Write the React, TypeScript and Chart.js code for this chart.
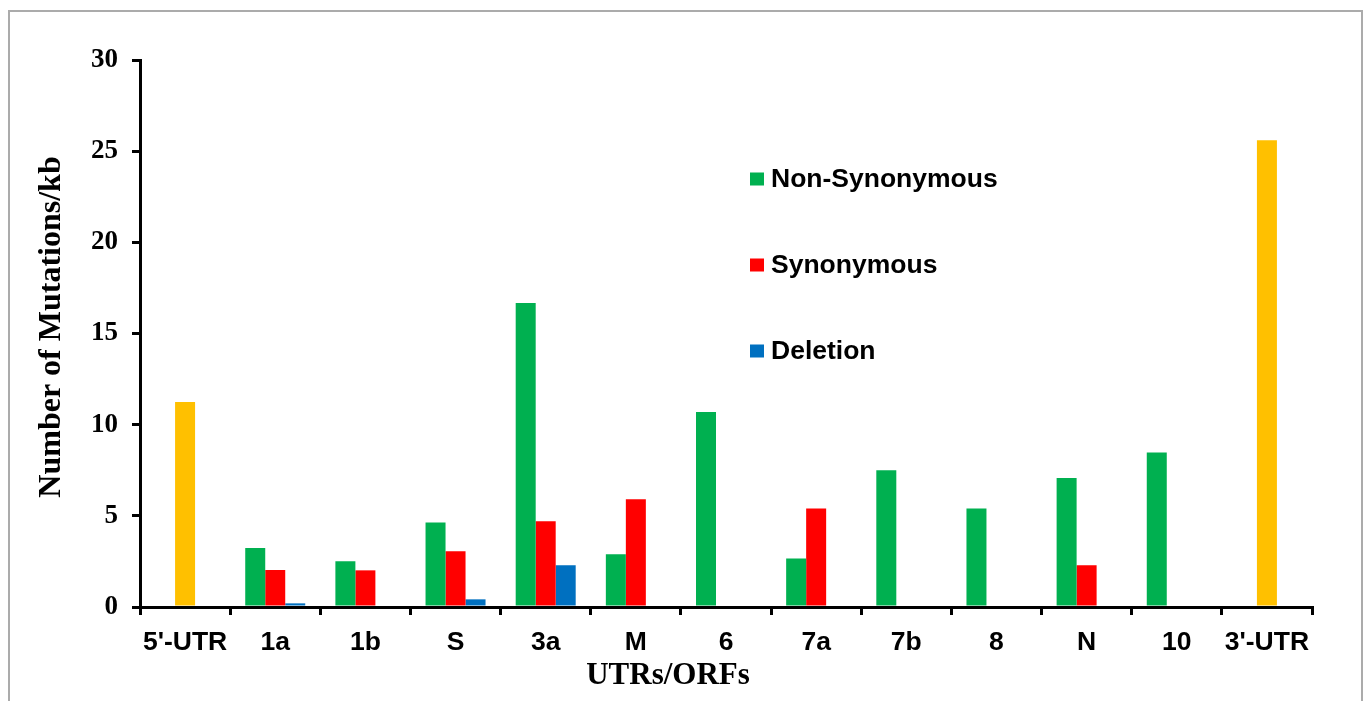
import React, { useEffect, useRef } from "react";
import { Chart, registerables } from "chart.js";

Chart.register(...registerables);

const categories = ["5'-UTR", "1a", "1b", "S", "3a", "M", "6", "7a", "7b", "8", "N", "10", "3'-UTR"];
const nonSynonymous = [null, 3.24, 2.51, 4.63, 16.67, 2.89, 10.69, 2.66, 7.5, 5.4, 7.08, 8.47, null];
const synonymous = [null, 2.03, 2.01, 3.06, 4.7, 5.91, 0, 5.4, 0, 0, 2.29, 0, null];
const deletion = [null, 0.2, 0, 0.42, 2.29, 0, 0, 0, 0, 0, 0, 0, null];
const utr = [11.24, null, null, null, null, null, null, null, null, null, null, null, 25.6];
const seriesLabels = ["Non-Synonymous", "Synonymous", "Deletion", "UTR"];
const seriesColors = ["#00B050", "#FF0000", "#0070C0", "#FFC000"];
const yMin = 0;
const yMax = 30;
const yStep = 5;
const xTitle = "UTRs/ORFs";
const yTitle = "Number of Mutations/kb";

const SERIF = "'Liberation Serif', 'Times New Roman', serif";
const SANS = "'Liberation Sans', Arial, sans-serif";

const overlayPlugin = {
  id: "overlay",
  afterDraw(chart: any) {
    const ctx = chart.ctx;
    ctx.save();
    ctx.fillStyle = "#000";
    // axis titles
    ctx.font = `bold 31px ${SERIF}`;
    ctx.textAlign = "center";
    ctx.textBaseline = "alphabetic";
    ctx.fillText(xTitle, 668, 684);
    ctx.font = `bold 32px ${SERIF}`;
    ctx.save();
    ctx.translate(60, 327);
    ctx.rotate(-Math.PI / 2);
    ctx.fillText(yTitle, 0, 0);
    ctx.restore();
    // legend (first three series)
    ctx.font = `bold 26.5px ${SANS}`;
    ctx.textAlign = "left";
    ctx.textBaseline = "middle";
    for (let i = 0; i < 3; i++) {
      const cy = 179 + i * 86;
      ctx.fillStyle = seriesColors[i];
      ctx.fillRect(750, cy - 6.5, 14, 13);
      ctx.fillStyle = "#000";
      ctx.fillText(seriesLabels[i], 771, cy + 1);
    }
    ctx.restore();
  },
};

export default function App() {
  const canvasRef = useRef<HTMLCanvasElement | null>(null);

  useEffect(() => {
    if (!canvasRef.current) return;
    const seriesData = [nonSynonymous, synonymous, deletion, utr];
    const chart = new Chart(canvasRef.current, {
      type: "bar",
      data: {
        labels: categories,
        datasets: seriesData.map((d, i) => ({
          label: seriesLabels[i],
          data: d as any,
          backgroundColor: seriesColors[i],
          borderWidth: 0,
          inflateAmount: 0,
          barThickness: 20,
          skipNull: true,
        })),
      },
      options: {
        responsive: false,
        animation: false,
        devicePixelRatio: 1,
        layout: { padding: { left: 0, right: 51, top: 60, bottom: 0 } },
        plugins: {
          legend: { display: false },
          tooltip: { enabled: false },
          title: { display: false },
        },
        scales: {
          x: {
            offset: true,
            z: 1,
            grid: {
              display: true,
              offset: true,
              drawOnChartArea: false,
              drawTicks: true,
              tickLength: 8,
              color: "#000",
              lineWidth: 3,
            },
            border: { display: true, color: "#000", width: 3 },
            ticks: {
              color: "#000",
              font: { family: SANS, weight: "bold", size: 26.5 },
              padding: 12,
              maxRotation: 0,
              autoSkip: false,
            },
            afterFit: (scale: any) => {
              scale.height = 94;
            },
          },
          y: {
            min: yMin,
            max: yMax,
            z: 1,
            grid: {
              display: true,
              drawOnChartArea: false,
              drawTicks: true,
              tickLength: 8,
              color: "#000",
              lineWidth: 3,
            },
            border: { display: true, color: "#000", width: 3 },
            ticks: {
              stepSize: yStep,
              color: "#000",
              font: { family: SERIF, weight: "bold", size: 27 },
              padding: 14,
            },
            afterFit: (scale: any) => {
              scale.width = 140;
            },
          },
        },
      },
      plugins: [overlayPlugin],
    });
    return () => chart.destroy();
  }, []);

  return (
    <div
      style={{
        position: "fixed",
        left: 0,
        top: 0,
        width: 1363,
        height: 701,
        overflow: "hidden",
        background: "#fff",
      }}
    >
      <div
        style={{
          position: "absolute",
          left: 8,
          top: 10,
          width: 1351,
          height: 760,
          border: "2px solid #ababab",
        }}
      />
      <canvas
        ref={canvasRef}
        width={1363}
        height={701}
        style={{ position: "absolute", left: 0, top: 0, display: "block" }}
      />
    </div>
  );
}
